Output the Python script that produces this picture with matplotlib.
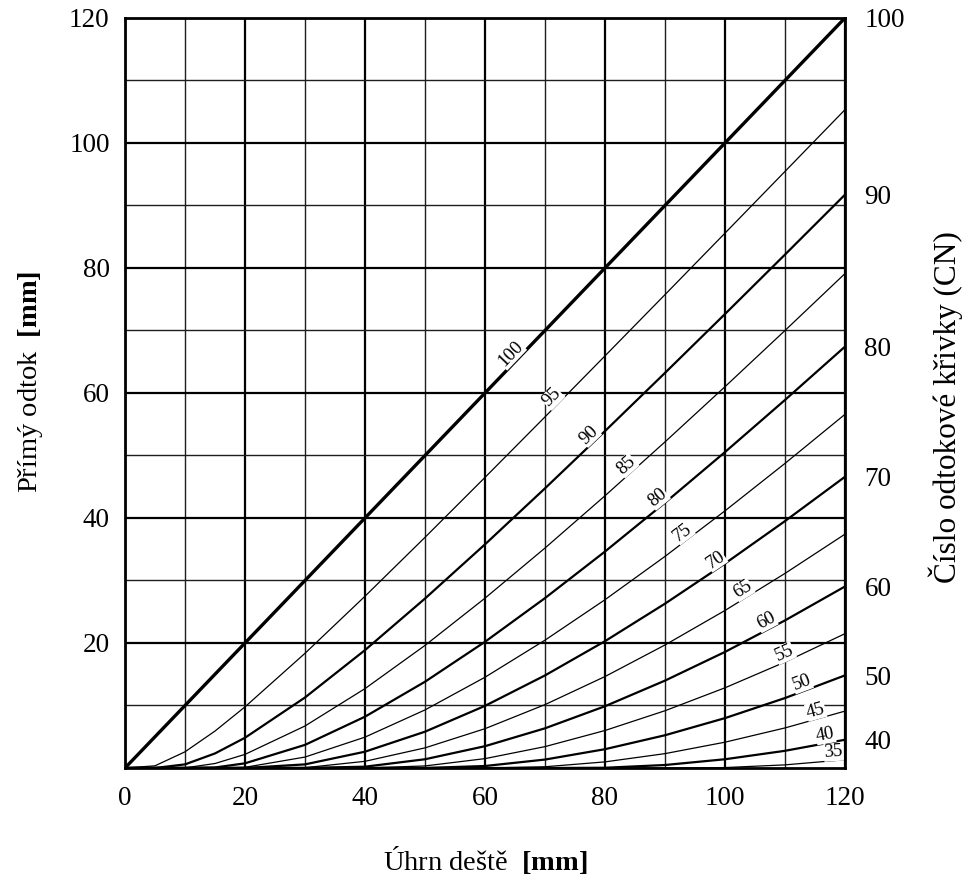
import numpy as np
import matplotlib
matplotlib.use("Agg")
import matplotlib.pyplot as plt

plt.rcParams['font.family'] = ['Liberation Serif', 'DejaVu Serif']
plt.rcParams['mathtext.fontset'] = 'custom'
plt.rcParams['mathtext.rm'] = 'Liberation Serif'
plt.rcParams['mathtext.bf'] = 'Liberation Serif:bold'

# rainfall depth P [mm] at which the curves were read
rain = [0, 5, 10, 15, 20, 30, 40, 50, 60, 70, 80, 90, 100, 110, 120]

# direct runoff Q [mm]
cn100 = [0, 5, 10, 15, 20, 30, 40, 50, 60, 70, 80, 90, 100, 110, 120]
cn95 = [0, 0.35, 2.59, 5.91, 9.78, 18.35, 27.48, 36.90, 46.49, 56.17, 65.93, 75.73, 85.57, 95.44, 105.32]
cn90 = [0, 0, 0.58, 2.33, 4.84, 11.28, 18.86, 27.11, 35.78, 44.74, 53.90, 63.21, 72.63, 82.14, 91.72]
cn85 = [0, 0, 0.02, 0.72, 2.18, 6.72, 12.70, 19.61, 27.17, 35.19, 43.55, 52.17, 61.00, 69.99, 79.10]
cn80 = [0, 0, 0, 0.08, 0.75, 3.70, 8.21, 13.80, 20.19, 27.18, 34.63, 42.44, 50.54, 58.88, 67.41]
cn75 = [0, 0, 0, 0, 0.11, 1.75, 4.94, 9.29, 14.52, 20.45, 26.92, 33.85, 41.14, 48.73, 56.58]
cn70 = [0, 0, 0, 0, 0, 0.58, 2.61, 5.81, 9.94, 14.81, 20.29, 26.29, 32.71, 39.50, 46.59]
cn65 = [0, 0, 0, 0, 0, 0.05, 1.07, 3.22, 6.29, 10.14, 14.63, 19.68, 25.20, 31.13, 37.41]
cn60 = [0, 0, 0, 0, 0, 0, 0.21, 1.40, 3.49, 6.35, 9.88, 13.98, 18.57, 23.61, 29.04]
cn55 = [0, 0, 0, 0, 0, 0, 0, 0.33, 1.50, 3.42, 6.00, 9.16, 12.83, 16.95, 21.49]
cn50 = [0, 0, 0, 0, 0, 0, 0, 0, 0.32, 1.35, 3.01, 5.24, 7.98, 11.19, 14.82]
cn45 = [0, 0, 0, 0, 0, 0, 0, 0, 0, 0.20, 0.98, 2.30, 4.13, 6.41, 9.10]
cn40 = [0, 0, 0, 0, 0, 0, 0, 0, 0, 0, 0.04, 0.48, 1.40, 2.75, 4.52]
cn35 = [0, 0, 0, 0, 0, 0, 0, 0, 0, 0, 0, 0, 0.07, 0.50, 1.32]

cn_values = [100, 95, 90, 85, 80, 75, 70, 65, 60, 55, 50, 45, 40, 35]
curves = [cn100, cn95, cn90, cn85, cn80, cn75, cn70, cn65, cn60, cn55, cn50, cn45, cn40, cn35]
# where along P each curve carries its label
label_at = [65.3, 72.2, 78.3, 84.5, 89.7, 93.8, 99.2, 103.7, 107.5, 110.5, 113.3, 115.5, 117.0, 118.2]

right_cn = [40, 50, 60, 70, 80, 90, 100]
right_pos = [cn40[-1], cn50[-1], cn60[-1], cn70[-1], cn80[-1], cn90[-1], cn100[-1]]

fig = plt.figure(figsize=(9.72, 8.85), dpi=100)
ax = fig.add_axes([0.1286, 0.1322, 0.7407, 0.8475])

ax.set_xlim(0, 120)
ax.set_ylim(0, 120)
ax.set_xticks(np.arange(0, 121, 20))
ax.set_xticks(np.arange(10, 120, 20), minor=True)
ax.set_yticks(np.arange(20, 121, 20))
ax.set_yticks(np.arange(10, 120, 20), minor=True)
ax.grid(which='major', color='black', lw=1.6)
ax.grid(which='minor', color='#1e1e1e', lw=1.0)
ax.set_axisbelow(True)
ax.tick_params(which='both', length=0, labelsize=19.5)
ax.tick_params(axis='x', pad=13)
ax.tick_params(axis='y', pad=11)
for s in ax.spines.values():
    s.set_linewidth(2.0)

for i, (cn, q) in enumerate(zip(cn_values, curves)):
    if cn == 100:
        lw = 2.4
    elif i % 2 == 0:
        lw = 1.6
    else:
        lw = 0.9
    ax.plot(rain, q, color='black', lw=lw, solid_capstyle='butt', zorder=3)

# inline CN labels, rotated along the curve
fig.canvas.draw()
for cn, q, px in zip(cn_values, curves, label_at):
    qy = np.interp(px, rain, q)
    p0 = ax.transData.transform((px - 3, np.interp(px - 3, rain, q)))
    p1 = ax.transData.transform((px + 3, np.interp(px + 3, rain, q)))
    ang = np.degrees(np.arctan2(p1[1] - p0[1], p1[0] - p0[0]))
    d = 6
    off = (-np.sin(np.radians(ang)) * d, np.cos(np.radians(ang)) * d)
    ax.annotate(str(cn), (px, qy), xytext=off, textcoords='offset points',
                ha='center', va='center', rotation=ang, fontsize=13.5,
                rotation_mode='anchor', zorder=4,
                bbox=dict(boxstyle='square,pad=0.02', fc='white', ec='none'))

ax2 = ax.twinx()
ax2.set_ylim(0, 120)
ax2.set_yticks(right_pos)
ax2.set_yticklabels([str(v) for v in right_cn])
ax2.tick_params(length=0, labelsize=19.5, pad=14)
for s in ax2.spines.values():
    s.set_visible(False)

fig.text(0.499, 0.028, u'Úhrn deště  $\\mathbf{[mm]}$', ha='center', va='center', fontsize=20.5)
fig.text(0.031, 0.568, u'Přímý odtok  $\\mathbf{[mm]}$', ha='center', va='center',
         rotation=90, fontsize=20.5)
fig.text(0.973, 0.54, u'Číslo odtokové křivky (CN)', ha='center', va='center',
         rotation=90, fontsize=22.5)

fig.savefig('out.png', dpi=100)
